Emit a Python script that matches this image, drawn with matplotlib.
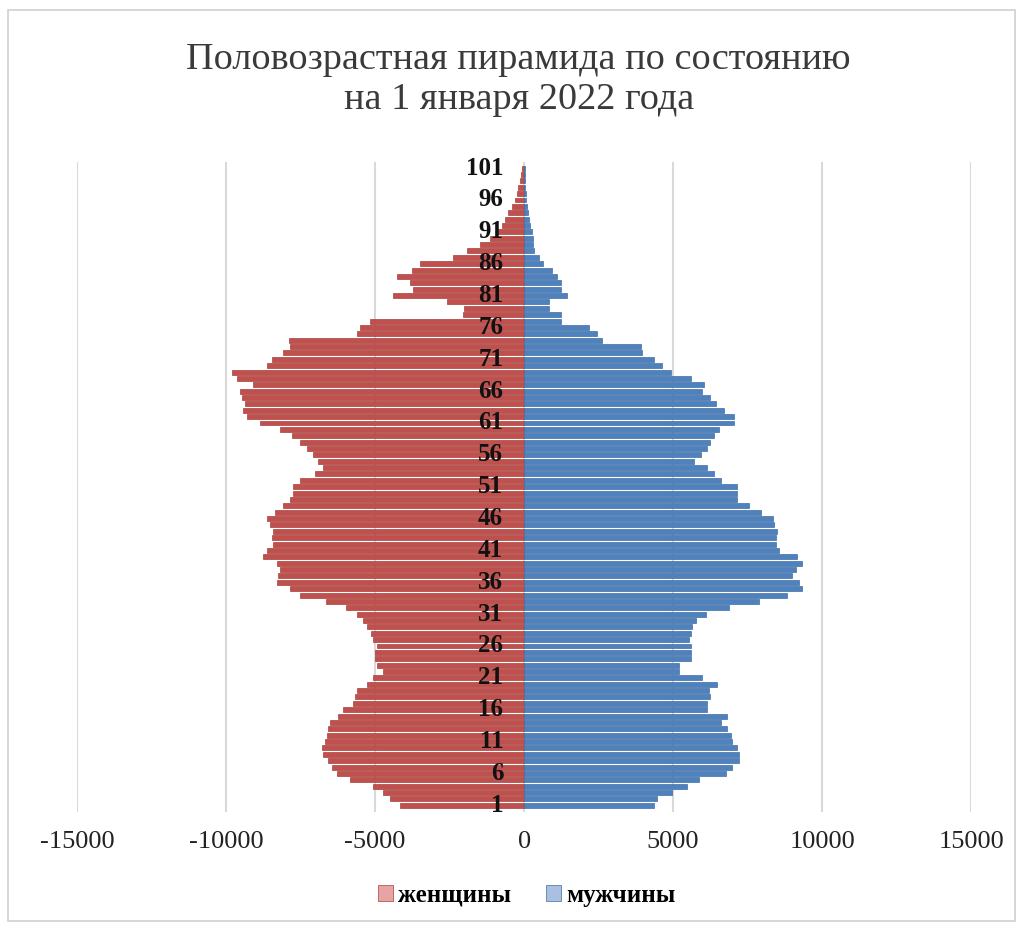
import numpy as np
import matplotlib
matplotlib.use('Agg')
import matplotlib.pyplot as plt
from matplotlib.patches import Rectangle

plt.rcParams['font.family'] = ['Liberation Serif', 'DejaVu Serif']

ages = list(range(1, 102))
# женщины, age 1..101
women = [4160, 4500, 4730, 5070, 5840, 6280, 6450, 6570, 6740, 6780,
         6680, 6600, 6570, 6510, 6240, 6070, 5730, 5670, 5620, 5270,
         5070, 4730, 4940, 4990, 4990, 4940, 5070, 5130, 5270, 5400,
         5620, 5960, 6630, 7520, 7850, 8300, 8250, 8190, 8300, 8750,
         8630, 8410, 8470, 8410, 8520, 8630, 8360, 8080, 7850, 7740,
         7740, 7520, 7010, 6740, 6910, 7080, 7290, 7520, 7800, 8190,
         8860, 9300, 9430, 9360, 9470, 9530, 9090, 9640, 9800, 8630,
         8470, 8080, 7850, 7900, 5600, 5500, 5170, 2050, 2000, 2590,
         4400, 3720, 3820, 4260, 3760, 3490, 2380, 1920, 1480, 1140,
         920, 740, 640, 530, 400, 300, 240, 190, 140, 100, 80]
# мужчины, age 1..101
men = [4360, 4470, 4970, 5470, 5870, 6780, 6980, 7210, 7210, 7150,
       6980, 6950, 6820, 6610, 6820, 6140, 6140, 6250, 6200, 6480,
       5980, 5200, 5200, 5600, 5600, 5600, 5550, 5600, 5640, 5770,
       6110, 6880, 7890, 8830, 9330, 9230, 9000, 9110, 9330, 9170,
       8560, 8450, 8450, 8500, 8390, 8340, 7950, 7550, 7150, 7150,
       7150, 6610, 6380, 6140, 5700, 5930, 6140, 6250, 6380, 6550,
       7050, 7050, 6710, 6440, 6250, 5980, 6030, 5600, 4930, 4640,
       4360, 3970, 3920, 2630, 2460, 2180, 1230, 1230, 840, 840,
       1450, 1230, 1230, 1120, 950, 620, 500, 340, 310, 310,
       250, 200, 150, 120, 100, 70, 50, 40, 30, 20, 15]
tick_ages = list(range(1, 102, 5))
xticks = [-15000, -10000, -5000, 0, 5000, 10000, 15000]

fig = plt.figure(figsize=(10.23, 9.26), dpi=100)
fig.patches.append(Rectangle((0.008, 0.005), 0.984, 0.984, transform=fig.transFigure,
                             fill=False, edgecolor='#d0d0d0', lw=1.2))
ax = fig.add_axes([0.0753, 0.1235, 0.874, 0.7018])

ax.barh(ages, -np.array(women), height=0.78, color='#c0504d', edgecolor='#a8403d',
        lw=0.5, label='женщины', zorder=2)
ax.barh(ages, men, height=0.78, color='#4f81bd', edgecolor='#3f6ea5',
        lw=0.5, label='мужчины', zorder=2)

ax.set_xlim(-15000, 15000)
ax.set_ylim(0, 102)
ax.set_xticks(xticks)
ax.set_xticklabels([str(v) for v in xticks], fontsize=19, color='#222222')
ax.set_yticks([])
for a in tick_ages:
    ax.text(-700, a, str(a), ha='right', va='center', fontsize=18,
            fontweight='bold', color='#111111', zorder=5)
for s in ['left', 'right', 'top', 'bottom']:
    ax.spines[s].set_visible(False)
ax.tick_params(axis='x', length=0, pad=14)
ax.grid(axis='x', color='#d9d9d9', lw=1.5, zorder=0)
ax.set_axisbelow(True)

fig.text(0.507, 0.936, 'Половозрастная пирамида по состоянию', ha='center', va='center',
         fontsize=27.5, color='#3a3a3a')
fig.text(0.507, 0.892, 'на 1 января 2022 года', ha='center', va='center',
         fontsize=27.5, color='#3a3a3a')

leg = fig.legend(loc='center', bbox_to_anchor=(0.515, 0.033), ncol=2, frameon=False,
                 prop={'size': 18, 'weight': 'bold'}, handlelength=0.6, handleheight=0.6,
                 handletextpad=0.2, columnspacing=1.4)
leg.legend_handles[0].set_facecolor('#e6a5a3')
leg.legend_handles[1].set_facecolor('#a9c0e0')

fig.savefig('out.png', dpi=100)
